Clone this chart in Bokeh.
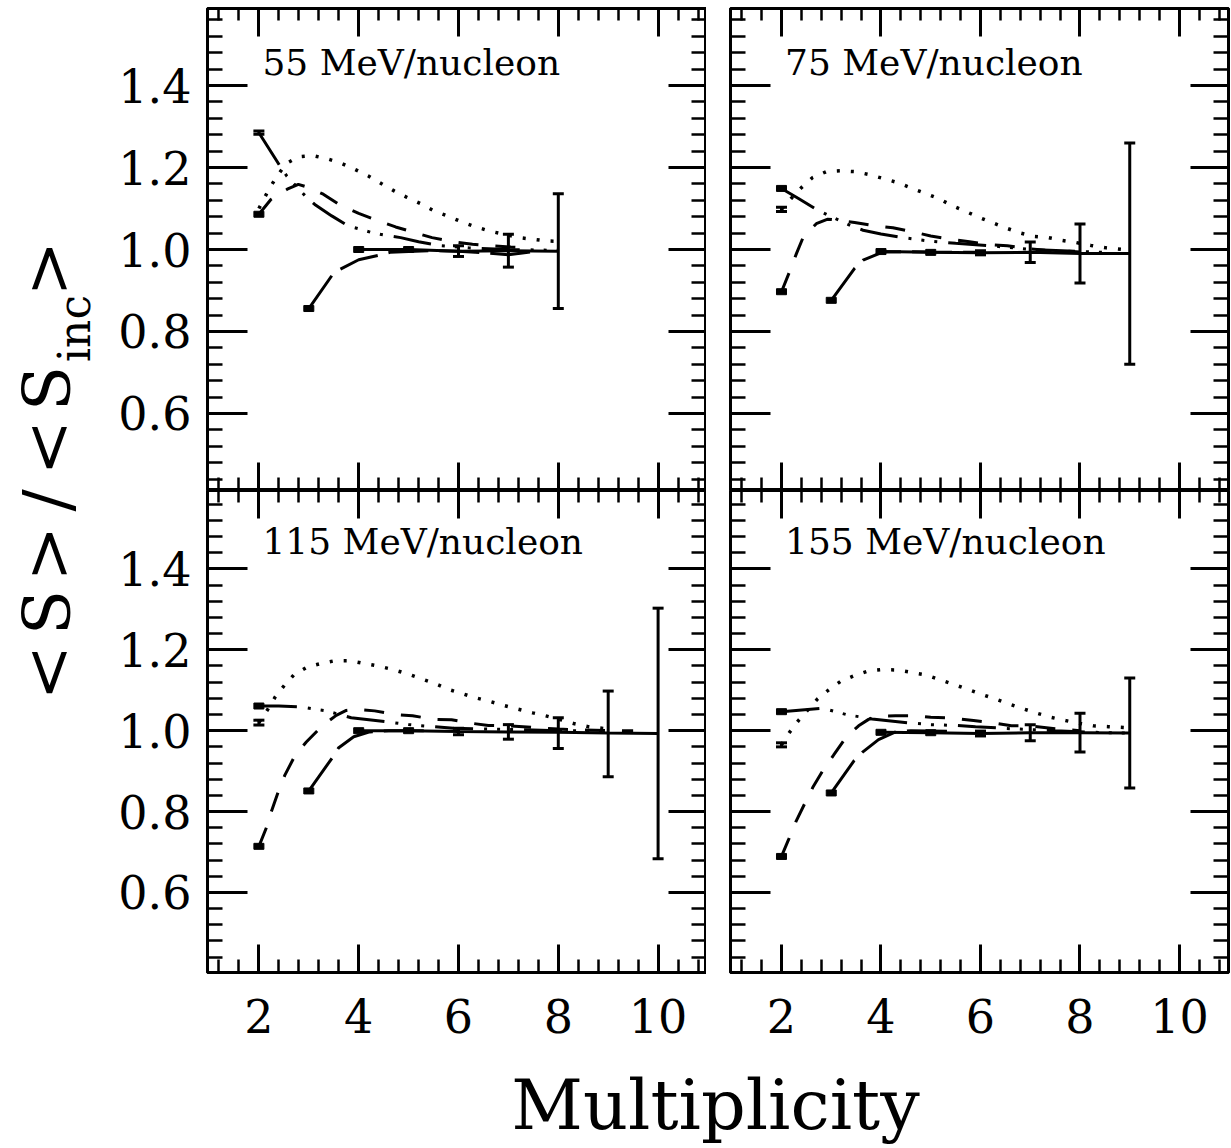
import math
from bokeh.plotting import figure
from bokeh.models import (ColumnDataSource, LinearAxis, FixedTicker, PrintfTickFormatter,
                          Whisker, TeeHead, Range1d)
from bokeh.layouts import row, column
from bokeh.embed import file_html
from bokeh.resources import INLINE
from bokeh.core.properties import value

SERIF = "DejaVu Serif"

# ---------------- data ----------------
panel_labels = ["55 MeV/nucleon", "75 MeV/nucleon", "115 MeV/nucleon", "155 MeV/nucleon"]
x_tick_values = [2, 4, 6, 8, 10]
y_tick_values = [0.6, 0.8, 1.0, 1.2, 1.4]
x_title = "Multiplicity"
y_title_parts = ["<", "S", ">", "/", "<", "S", "inc", ">"]

# 55 MeV/nucleon
e55_solid_x = [4, 5, 6, 7, 8]
e55_solid_y = [1.000, 1.000, 0.996, 0.997, 0.996]
e55_ldash_x = [3.0, 3.46, 3.63, 4.0, 4.4, 4.63, 5.0, 5.47, 6.0, 6.6, 7.0, 7.5]
e55_ldash_y = [0.856, 0.936, 0.952, 0.975, 0.986, 0.993, 0.995, 0.997, 0.996, 0.991, 0.987, 0.995]
e55_dash_x = [2.0, 2.24, 2.58, 2.79, 2.95, 3.29, 3.63, 4.0, 4.39, 4.74, 5.13, 5.47, 5.88, 6.28, 6.68, 7.05, 7.46]
e55_dash_y = [1.086, 1.122, 1.148, 1.159, 1.153, 1.135, 1.108, 1.088, 1.070, 1.055, 1.041, 1.029, 1.019, 1.013, 1.009, 1.006, 1.004]
e55_ddot_x = [2.0, 2.42, 2.56, 2.92, 3.12, 3.46, 3.80, 4.05, 4.30, 4.56, 4.84, 5.2, 5.61, 6.2, 7.0, 8.0]
e55_ddot_y = [1.285, 1.204, 1.179, 1.132, 1.110, 1.082, 1.057, 1.049, 1.040, 1.034, 1.029, 1.019, 1.010, 1.004, 1.000, 0.998]
e55_dot_x = [2.0, 2.21, 2.37, 2.55, 2.79, 3.09, 3.38, 3.66, 3.93, 4.2, 4.45, 4.71, 4.97, 5.24, 5.51, 5.78, 6.05, 6.33, 6.62, 6.92, 7.21, 7.48, 7.76, 8.0]
e55_dot_y = [1.100, 1.149, 1.180, 1.210, 1.226, 1.229, 1.221, 1.210, 1.195, 1.179, 1.161, 1.143, 1.127, 1.112, 1.094, 1.082, 1.068, 1.056, 1.045, 1.037, 1.029, 1.025, 1.021, 1.020]
e55_sq_x = [2, 3, 4, 5]
e55_sq_y = [1.086, 0.856, 1.000, 1.000]
e55_err_x = [2, 6, 7, 8]
e55_err_y = [1.285, 0.996, 0.997, 0.996]
e55_err_e = [0.004, 0.013, 0.040, 0.140]

# 75 MeV/nucleon
e75_solid_x = [4, 5, 6, 7, 8, 9]
e75_solid_y = [0.995, 0.993, 0.992, 0.993, 0.990, 0.990]
e75_ldash_x = [3.0, 3.47, 3.64, 4.04, 4.5, 5.0, 6.0]
e75_ldash_y = [0.876, 0.954, 0.974, 0.994, 0.995, 0.994, 0.993]
e75_dash_x = [2.0, 2.16, 2.30, 2.44, 2.70, 2.93, 3.17, 3.47, 3.87, 4.24, 4.64, 5.0, 5.41, 5.78, 6.18, 6.54, 6.95, 7.3, 7.7, 8.0]
e75_dash_y = [0.897, 0.945, 0.990, 1.031, 1.063, 1.074, 1.071, 1.066, 1.058, 1.053, 1.043, 1.033, 1.025, 1.019, 1.012, 1.009, 1.002, 0.998, 0.996, 0.994]
e75_ddot_x = [2.0, 2.35, 2.70, 2.93, 3.40, 3.64, 4.0, 4.44, 5.0, 5.5, 6.3, 7.0, 8.0, 8.5]
e75_ddot_y = [1.149, 1.124, 1.098, 1.084, 1.058, 1.047, 1.038, 1.029, 1.020, 1.015, 1.008, 1.000, 0.995, 0.993]
e75_dot_x = [2.0, 2.19, 2.40, 2.62, 2.90, 3.19, 3.48, 3.75, 4.05, 4.34, 4.61, 4.89, 5.16, 5.43, 5.70, 5.96, 6.23, 6.50, 6.78, 7.07, 7.36, 7.65, 7.92, 8.22, 8.53, 8.86, 9.0]
e75_dot_y = [1.098, 1.124, 1.151, 1.175, 1.190, 1.192, 1.190, 1.183, 1.173, 1.163, 1.150, 1.137, 1.124, 1.107, 1.093, 1.079, 1.066, 1.053, 1.041, 1.032, 1.029, 1.022, 1.017, 1.010, 1.004, 1.000, 0.998]
e75_sq_x = [2, 2, 3, 4, 5]
e75_sq_y = [1.149, 0.897, 0.876, 0.995, 0.993]
e75_err_x = [2, 6, 7, 8, 9]
e75_err_y = [1.098, 0.992, 0.993, 0.990, 0.990]
e75_err_e = [0.005, 0.005, 0.025, 0.072, 0.270]

# 115 MeV/nucleon
e115_solid_x = [4, 5, 6, 7, 8, 9, 10]
e115_solid_y = [1.000, 1.000, 0.998, 0.997, 0.996, 0.994, 0.993]
e115_ldash_x = [3.0, 3.47, 3.6, 3.9, 4.22, 4.6, 5.5]
e115_ldash_y = [0.851, 0.933, 0.958, 0.985, 0.997, 1.000, 1.000]
e115_dash_x = [2.0, 2.15, 2.25, 2.39, 2.52, 2.73, 2.95, 3.27, 3.55, 3.75, 3.93, 4.32, 4.72, 5.08, 5.5, 5.86, 6.28, 6.6, 7.0, 7.5, 8.0, 9.0, 9.5]
e115_dash_y = [0.714, 0.760, 0.800, 0.850, 0.890, 0.940, 0.972, 1.012, 1.038, 1.050, 1.053, 1.049, 1.040, 1.037, 1.028, 1.027, 1.018, 1.013, 1.012, 1.008, 1.004, 1.000, 1.000]
e115_ddot_x = [2.0, 2.4, 2.82, 3.08, 3.35, 3.85, 4.62, 5.0, 5.5, 5.9, 6.7, 8.0, 9.0]
e115_ddot_y = [1.061, 1.061, 1.059, 1.054, 1.049, 1.032, 1.021, 1.015, 1.010, 1.006, 1.004, 1.000, 1.000]
e115_dot_x = [2.0, 2.17, 2.33, 2.51, 2.70, 2.96, 3.24, 3.52, 3.83, 4.11, 4.39, 4.69, 4.97, 5.24, 5.52, 5.80, 6.09, 6.35, 6.64, 6.92, 7.20, 7.49, 7.77, 8.05, 8.33, 8.60, 9.0]
e115_dot_y = [1.020, 1.051, 1.084, 1.112, 1.138, 1.157, 1.166, 1.173, 1.173, 1.166, 1.160, 1.151, 1.141, 1.129, 1.117, 1.102, 1.091, 1.081, 1.072, 1.062, 1.053, 1.044, 1.036, 1.027, 1.017, 1.010, 1.004]
e115_sq_x = [2, 2, 3, 4, 5]
e115_sq_y = [1.061, 0.714, 0.851, 1.000, 1.000]
e115_err_x = [2, 6, 7, 8, 9, 10]
e115_err_y = [1.020, 0.998, 0.997, 0.994, 0.992, 0.993]
e115_err_e = [0.006, 0.008, 0.018, 0.038, 0.106, 0.310]

# 155 MeV/nucleon
e155_solid_x = [4, 5, 6, 7, 8, 9]
e155_solid_y = [0.996, 0.995, 0.993, 0.995, 0.995, 0.994]
e155_ldash_x = [3.0, 3.46, 3.63, 3.95, 4.27, 4.6, 5.5]
e155_ldash_y = [0.846, 0.926, 0.947, 0.978, 0.996, 1.000, 0.998]
e155_dash_x = [2.0, 2.15, 2.29, 2.48, 2.63, 2.85, 3.05, 3.30, 3.55, 3.75, 3.92, 4.29, 4.70, 5.0, 5.46, 5.86, 6.26, 6.62, 6.96, 7.5, 8.0]
e155_dash_y = [0.689, 0.733, 0.775, 0.823, 0.860, 0.905, 0.940, 0.984, 1.012, 1.028, 1.036, 1.037, 1.037, 1.033, 1.031, 1.025, 1.019, 1.012, 1.012, 1.005, 1.000]
e155_ddot_x = [2.0, 2.79, 2.90, 3.30, 3.82, 4.59, 5.0, 5.5, 5.9, 6.6, 7.5, 8.5, 9.0]
e155_ddot_y = [1.047, 1.055, 1.053, 1.040, 1.029, 1.019, 1.015, 1.013, 1.010, 1.005, 1.000, 0.995, 0.994]
e155_dot_x = [2.0, 2.15, 2.34, 2.72, 2.94, 3.19, 3.46, 3.75, 4.03, 4.33, 4.62, 4.90, 5.18, 5.47, 5.75, 6.02, 6.31, 6.58, 6.86, 7.14, 7.42, 7.71, 8.0, 8.27, 8.57, 8.87, 9.0]
e155_dot_y = [0.965, 0.994, 1.025, 1.078, 1.100, 1.122, 1.136, 1.148, 1.151, 1.150, 1.144, 1.138, 1.126, 1.114, 1.102, 1.090, 1.078, 1.066, 1.054, 1.043, 1.033, 1.025, 1.018, 1.012, 1.010, 1.008, 1.007]
e155_sq_x = [2, 2, 3, 4, 5]
e155_sq_y = [1.047, 0.689, 0.846, 0.996, 0.995]
e155_err_x = [2, 6, 7, 8, 9]
e155_err_y = [0.965, 0.993, 0.995, 0.995, 0.994]
e155_err_e = [0.005, 0.006, 0.020, 0.048, 0.136]

# ---------------- styling helpers ----------------
X_MINOR = [round(1.2 + 0.4 * i, 1) for i in range(25)]
Y_MINOR = [round(0.44 + 0.04 * i, 2) for i in range(29)]
FRAME_H = 482


def style_axis(ax, major_in, minor_in, ticks, minors, fmt, show, size="46px", standoff=10):
    ax.ticker = FixedTicker(ticks=ticks, minor_ticks=minors)
    ax.formatter = PrintfTickFormatter(format=fmt)
    ax.axis_line_color = "black"
    ax.axis_line_width = 3
    ax.major_tick_in = major_in
    ax.major_tick_out = 0
    ax.minor_tick_in = minor_in
    ax.minor_tick_out = 0
    ax.major_tick_line_color = "black"
    ax.major_tick_line_width = 3
    ax.minor_tick_line_color = "black"
    ax.minor_tick_line_width = 2.5
    ax.axis_label = None
    if show:
        ax.major_label_text_font = SERIF
        ax.major_label_text_font_size = size
        ax.major_label_text_color = "black"
        ax.major_label_standoff = standoff
    else:
        ax.major_label_text_font_size = "0px"
        ax.major_label_text_alpha = 0
        ax.major_label_standoff = 0


def make_panel(label, label_y, xr, yr, fw, show_x, show_y, bl, br, bt, bb,
               solid, ldash, dash, ddot, dot, sq, err):
    p = figure(frame_width=fw, frame_height=FRAME_H,
               x_range=Range1d(*xr), y_range=Range1d(*yr),
               output_backend="svg", toolbar_location=None,
               min_border_left=bl, min_border_right=br,
               min_border_top=bt, min_border_bottom=bb,
               background_fill_color="white", border_fill_color="white")
    p.add_layout(LinearAxis(), "above")
    p.add_layout(LinearAxis(), "right")
    p.xgrid.visible = False
    p.ygrid.visible = False
    p.outline_line_color = "black"
    p.outline_line_width = 3
    for ax in p.below:
        style_axis(ax, 28, 13, x_tick_values, X_MINOR, "%d", show_x, "46px", 26)
    for ax in p.above:
        style_axis(ax, 28, 12, x_tick_values, X_MINOR, "%d", False)
    for ax in p.left:
        style_axis(ax, 40, 15, y_tick_values, Y_MINOR, "%.1f", show_y, "46px", 16)
    for ax in p.right:
        style_axis(ax, 38, 15, y_tick_values, Y_MINOR, "%.1f", False)

    p.line(solid[0], solid[1], line_color="black", line_width=3)
    p.line(ldash[0], ldash[1], line_color="black", line_width=3, line_dash="40 11")
    p.line(dash[0], dash[1], line_color="black", line_width=3, line_dash="20 17")
    p.line(ddot[0], ddot[1], line_color="black", line_width=3,
           line_dash="38 11 3 10 3 10 3 11")
    p.line(dot[0], dot[1], line_color="black", line_width=3.5, line_dash="3 11")

    p.rect(x=sq[0], y=sq[1], width=10, height=6, width_units="screen",
           height_units="screen", fill_color="black", line_color="black")

    src = ColumnDataSource(dict(
        x=err[0],
        upper=[y + e for y, e in zip(err[1], err[2])],
        lower=[y - e for y, e in zip(err[1], err[2])]))
    w = Whisker(source=src, base="x", upper="upper", lower="lower",
                line_color="black", line_width=3,
                upper_head=TeeHead(size=11, line_color="black", line_width=3),
                lower_head=TeeHead(size=11, line_color="black", line_width=3))
    p.add_layout(w)

    p.text(x=[2.07], y=[label_y], text=[label], text_font=value(SERIF),
           text_font_size="36px", text_align="left", text_baseline="middle",
           text_color="black")
    return p


XR_L = (0.97, 10.97)
XR_R = (0.975, 10.985)
YR_T = (0.412, 1.588)
YR_B = (0.402, 1.594)

p1 = make_panel(panel_labels[0], 1.457, XR_L, YR_T, 499, False, True, 104, 0, 8, 0,
                (e55_solid_x, e55_solid_y), (e55_ldash_x, e55_ldash_y),
                (e55_dash_x, e55_dash_y), (e55_ddot_x, e55_ddot_y),
                (e55_dot_x, e55_dot_y), (e55_sq_x, e55_sq_y),
                (e55_err_x, e55_err_y, e55_err_e))
p2 = make_panel(panel_labels[1], 1.457, XR_R, YR_T, 498, False, False, 24, 3, 8, 0,
                (e75_solid_x, e75_solid_y), (e75_ldash_x, e75_ldash_y),
                (e75_dash_x, e75_dash_y), (e75_ddot_x, e75_ddot_y),
                (e75_dot_x, e75_dot_y), (e75_sq_x, e75_sq_y),
                (e75_err_x, e75_err_y, e75_err_e))
p3 = make_panel(panel_labels[2], 1.469, XR_L, YR_B, 499, True, True, 104, 0, 0, 82,
                (e115_solid_x, e115_solid_y), (e115_ldash_x, e115_ldash_y),
                (e115_dash_x, e115_dash_y), (e115_ddot_x, e115_ddot_y),
                (e115_dot_x, e115_dot_y), (e115_sq_x, e115_sq_y),
                (e115_err_x, e115_err_y, e115_err_e))
p4 = make_panel(panel_labels[3], 1.469, XR_R, YR_B, 498, True, False, 24, 3, 0, 82,
                (e155_solid_x, e155_solid_y), (e155_ldash_x, e155_ldash_y),
                (e155_dash_x, e155_dash_y), (e155_ddot_x, e155_ddot_y),
                (e155_dot_x, e155_dot_y), (e155_sq_x, e155_sq_y),
                (e155_err_x, e155_err_y, e155_err_e))

# ---------------- shared axis titles ----------------
YLAB_H = 8 + 2 * FRAME_H
ylab = figure(width=103, height=YLAB_H, x_range=Range1d(0, 103), y_range=Range1d(0, YLAB_H),
              x_axis_type=None, y_axis_type=None, min_border=0,
              output_backend="svg", toolbar_location=None)
ylab.outline_line_color = None
ylab.xgrid.visible = False
ylab.ygrid.visible = False
# character centres along the rotated title (pixels from the top of the page)
yt_centre_from_top = [672, 612, 553, 500, 447, 388, 328, 268]
yt_x = [47, 47, 47, 47, 47, 47, 74, 47]
yt_size = ["66px", "66px", "66px", "66px", "66px", "66px", "44px", "66px"]
ylab.text(x=yt_x, y=[YLAB_H - v for v in yt_centre_from_top], text=y_title_parts,
          angle=math.pi / 2, text_font=value(SERIF), text_font_size=yt_size,
          text_align="center", text_baseline="middle", text_color="black")

xlab = figure(width=1128, height=94, x_range=Range1d(0, 1128), y_range=Range1d(0, 94),
              x_axis_type=None, y_axis_type=None, min_border=0,
              output_backend="svg", toolbar_location=None)
xlab.outline_line_color = None
xlab.xgrid.visible = False
xlab.ygrid.visible = False
xlab.text(x=[612], y=[44], text=[x_title], text_font=value(SERIF),
          text_font_size="70px", text_align="center", text_baseline="middle",
          text_color="black")

layout = row(ylab, column(row(p1, p2), row(p3, p4), xlab))

open("out.html", "w").write(file_html(layout, INLINE))
